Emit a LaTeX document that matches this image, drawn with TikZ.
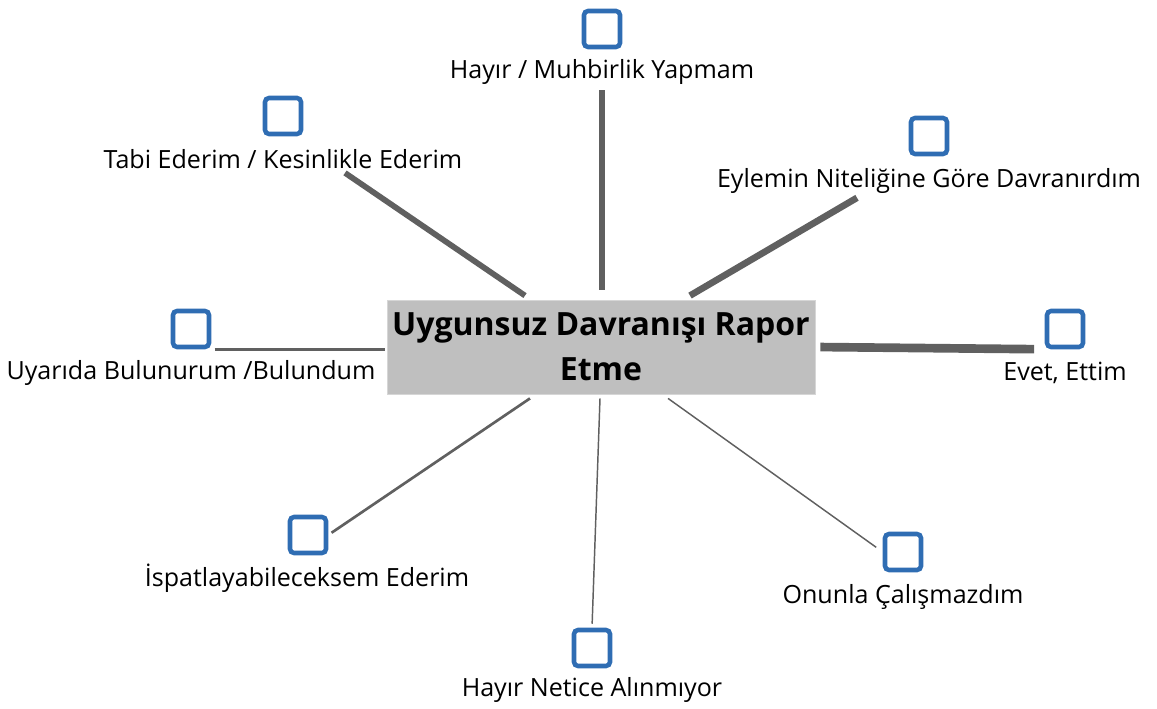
\documentclass[tikz,border=0pt]{standalone}
\usepackage{fontspec}
\setmainfont{Open Sans}
\usepackage{xcolor}
\usepackage{tikz}
\definecolor{tickblue}{HTML}{2F6DB3}
\definecolor{spokegray}{HTML}{606060}
\definecolor{topicgray}{HTML}{BFBFBF}
\definecolor{topicedge}{HTML}{D6D6D6}

\begin{document}
\begin{tikzpicture}[x=0.75pt,y=-0.75pt,
  tick/.style={draw=tickblue, line width=3.4pt, rounded corners=3pt,
    minimum size=27pt, inner sep=0pt},
  answer/.style={font=\fontsize{18.8}{22}\selectfont, inner sep=1pt},
  spoke/.style={draw=spokegray, line width=#1}]
  \useasboundingbox (0,0) rectangle (1157,709);

  %% Central topic
  \node[fill=topicgray, draw=topicedge, line width=0.6pt, inner xsep=0.5pt,
        minimum width=321pt, minimum height=70.5pt, align=center,
        font=\fontsize{24}{34}\selectfont\bfseries] (topic) at (601,347)
    {Uygunsuz Davranışı Rapor\\Etme};

  %% Answers (tick box + label)
  \node[tick] (s1) at (602,29) {};
  \node[answer] (a1) at (602,72) {Hayır / Muhbirlik Yapmam};
  \node[tick] (s2) at (283,116) {};
  \node[answer] (a2) at (283,159) {Tabi Ederim / Kesinlikle Ederim};
  \node[tick] (s3) at (929,136) {};
  \node[answer] (a3) at (929,181) {Eylemin Niteliğine Göre Davranırdım};
  \node[tick] (s4) at (1065,329) {};
  \node[answer] (a4) at (1065,373) {Evet, Ettim};
  \node[tick] (s5) at (191,329) {};
  \node[answer] (a5) at (191,373) {Uyarıda Bulunurum /Bulundum};
  \node[tick] (s6) at (308,535) {};
  \node[answer] (a6) at (307,578) {İspatlayabileceksem Ederim};
  \node[tick] (s7) at (592,648) {};
  \node[answer] (a7) at (592,690) {Hayır Netice Alınmıyor};
  \node[tick] (s8) at (903,552) {};
  \node[answer] (a8) at (903,597) {Onunla Çalışmazdım};

  %% Spokes
  \draw[spoke=4.5pt, shorten <=3pt, shorten >=7.5pt] (a1.south) -- (topic.north -| a1.south);
  \draw[spoke=4.3pt] ([xshift=46.5pt,yshift=-2pt]a2.south) -- ([xshift=-57pt,yshift=3pt]topic.north);
  \draw[spoke=5pt] ([xshift=-54pt,yshift=-2pt]a3.south) -- ([xshift=66.75pt,yshift=3pt]topic.north);
  \draw[spoke=6.5pt, shorten <=3.75pt, shorten >=8pt] (topic.east) -- (s4.south west);
  \draw[spoke=1.9pt, shorten <=2.5pt, shorten >=1.5pt] (s5.south east) -- (s5.south east -| topic.west);
  \draw[spoke=2pt, shorten <=3pt] (s6.east) -- ([xshift=-53.25pt,yshift=-3pt]topic.south);
  \draw[spoke=1.1pt, shorten <=3pt] (s7.north) -- ([xshift=-0.75pt,yshift=-3pt]topic.south);
  \draw[spoke=1.1pt, shorten <=6pt] (s8.west) -- ([xshift=50.25pt,yshift=-3pt]topic.south);
\end{tikzpicture}
\end{document}
